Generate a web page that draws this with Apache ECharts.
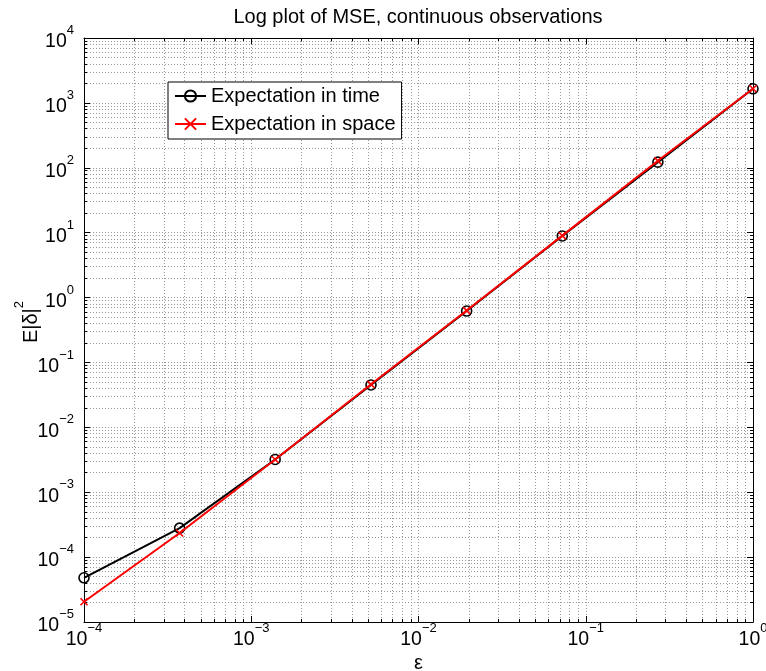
<!DOCTYPE html>
<html style="height: 100%">
   <head>
       <meta charset="utf-8">
   </head>
   <body style="height: 100%; margin: 0; background: #fff">
       <div id="container" style="width: 766px; height: 671px"></div>
       <script type="text/javascript" src="https://cdn.jsdelivr.net/npm/echarts@6/dist/echarts.min.js"></script>
       <script type="text/javascript">
// values
var epsValues = [1e-4, 3.73e-4, 1.39e-3, 5.2e-3, 1.94e-2, 7.24e-2, 0.27, 1];
var timeMSE = [4.8e-5, 2.8e-4, 3.2e-3, 4.5e-2, 0.62, 8.9, 122, 1650];
var spaceMSE = [2.05e-5, 2.35e-4, 3.2e-3, 4.6e-2, 0.63, 9.0, 128, 1650];
var seriesNames = ['Expectation in time', 'Expectation in space'];
var titleText = 'Log plot of MSE, continuous observations';
var xRange = [1e-4, 1];
var yRange = [1e-5, 1e4];

var font = 'Liberation Sans, Arial, Helvetica, sans-serif';

function pairs(xs, ys) {
    return xs.map(function (x, i) { return [x, ys[i]]; });
}

// 10 with a superscript exponent, like matlab
function pow10Label(v) {
    var e = Math.round(Math.log10(v));
    var s = e < 0 ? '\u2212' + (-e) : String(e);
    return '{b|10}{s|' + s + '}';
}

var richLabel = {
    b: {fontSize: 19.5, lineHeight: 28, verticalAlign: 'bottom', fontFamily: font, color: '#000'},
    s: {fontSize: 13, lineHeight: 12, verticalAlign: 'top', fontFamily: font, color: '#000'}
};

var gridDots = {color: '#999', width: 1, type: [1, 2]};

function logAxis(range, extra) {
    var ax = {
        type: 'log',
        logBase: 10,
        min: range[0],
        max: range[1],
        splitNumber: Math.round(Math.log10(range[1] / range[0])),
        axisLine: {show: true, onZero: false, lineStyle: {color: '#000', width: 1}},
        axisTick: {show: true, inside: true, length: 6, lineStyle: {color: '#000'}},
        minorTick: {show: true, splitNumber: 9, length: 3, lineStyle: {color: '#000'}},
        splitLine: {show: false},
        minorSplitLine: {show: false},
        axisLabel: {show: false}
    };
    for (var k in extra) ax[k] = extra[k];
    return ax;
}

var dom = document.getElementById("container");
var myChart = echarts.init(dom);
var option = {
    backgroundColor: '#fff',
    animation: false,
    textStyle: {fontFamily: font},
    title: {
        text: titleText,
        left: 413,
        textAlign: 'center',
        top: 2,
        textStyle: {fontSize: 20, fontWeight: 'normal', color: '#000', fontFamily: font}
    },
    legend: {
        orient: 'vertical',
        left: 168,
        top: 82,
        data: seriesNames,
        itemWidth: 31,
        itemHeight: 14,
        itemGap: 8,
        padding: [4, 6, 5, 6],
        borderColor: '#000',
        borderWidth: 1,
        backgroundColor: '#fff',
        textStyle: {fontSize: 20, color: '#000', fontFamily: font}
    },
    grid: {left: 84, right: 13, top: 38, bottom: 49, outerBoundsMode: 'none', containLabel: false},
    xAxis: [
        logAxis(xRange, {
            position: 'bottom',
            name: '\u03b5',
            nameLocation: 'middle',
            nameGap: 31,
            nameMoveOverlap: false,
            nameTextStyle: {fontSize: 20, color: '#000', fontFamily: font},
            splitLine: {show: true, lineStyle: gridDots},
            minorSplitLine: {show: true, lineStyle: gridDots},
            axisLabel: {show: true, margin: 0, formatter: pow10Label, rich: richLabel}
        }),
        logAxis(xRange, {position: 'top'})
    ],
    yAxis: [
        logAxis(yRange, {
            position: 'left',
            name: '{a|E|\u03b4|}{s|2}',
            nameLocation: 'middle',
            nameGap: 43,
            nameMoveOverlap: false,
            nameTextStyle: {
                padding: [0, 0, 0, 16],
                rich: {
                    a: {fontSize: 20, lineHeight: 28, verticalAlign: 'bottom', color: '#000', fontFamily: font},
                    s: {fontSize: 13, lineHeight: 12, verticalAlign: 'top', color: '#000', fontFamily: font}
                }
            },
            splitLine: {show: true, lineStyle: gridDots},
            minorSplitLine: {show: true, lineStyle: gridDots},
            axisLabel: {show: true, margin: 10, formatter: pow10Label, rich: richLabel}
        }),
        logAxis(yRange, {position: 'right'})
    ],
    series: [
        {
            name: seriesNames[0],
            type: 'line',
            data: pairs(epsValues, timeMSE),
            symbol: 'circle',
            symbolSize: 10,
            lineStyle: {color: '#000', width: 2},
            itemStyle: {color: 'rgba(0,0,0,0)', borderColor: '#000', borderWidth: 1.6},
            z: 3
        },
        {
            name: seriesNames[1],
            type: 'line',
            data: pairs(epsValues, spaceMSE),
            symbol: 'path://M0,0L10,10M10,0L0,10',
            symbolSize: 7,
            lineStyle: {color: '#ff0000', width: 2},
            itemStyle: {color: 'rgba(0,0,0,0)', borderColor: '#ff0000', borderWidth: 1.6},
            z: 4
        }
    ]
};
myChart.setOption(option, true);
       </script>
   </body>
</html>
